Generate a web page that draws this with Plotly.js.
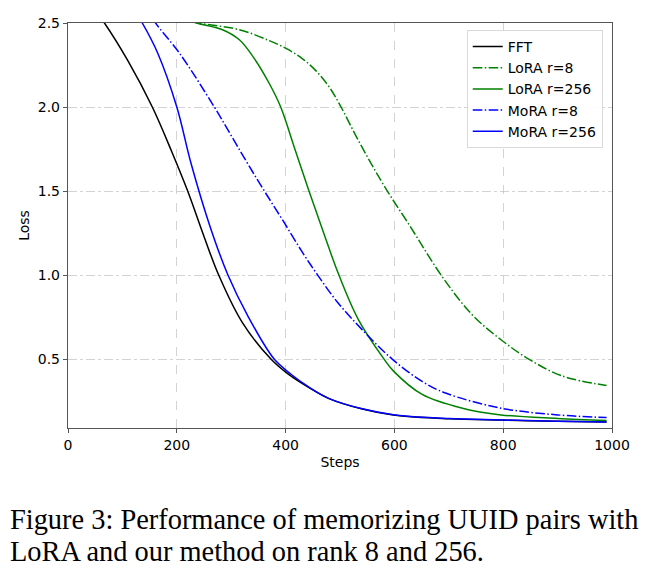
<!DOCTYPE html>
<html>
<head>
<meta charset="utf-8">
<script src="https://cdn.plot.ly/plotly-3.0.1.min.js"></script>
<style>html,body{margin:0;padding:0;background:#fff;}#chart{width:652px;height:575px;}</style>
</head>
<body>
<div id="chart"></div>
<script>
// Series data (steps, loss)
const fftSteps = [30, 67, 110, 155, 190, 220, 250, 277, 320, 373, 405, 443, 480, 541, 598, 700, 796, 900, 990];
const fftLoss  = [2.66, 2.5, 2.276, 2.0, 1.74, 1.5, 1.23, 1.0, 0.72, 0.5, 0.41, 0.33, 0.265, 0.203, 0.168, 0.145, 0.137, 0.130, 0.125];

const lora8Steps = [200, 240, 315, 370, 400, 430, 456, 480, 502, 529, 557, 587, 627, 688, 743, 796, 847, 908, 990];
const lora8Loss  = [2.53, 2.5, 2.46, 2.395, 2.35, 2.29, 2.215, 2.12, 2.0, 1.83, 1.665, 1.50, 1.30, 0.99, 0.764, 0.615, 0.50, 0.40, 0.343];

const lora256Steps = [200, 236, 284, 315, 340, 370, 391, 417, 443, 470, 498, 534, 581, 598, 651, 725, 796, 900, 990];
const lora256Loss  = [2.54, 2.5, 2.46, 2.40, 2.30, 2.14, 2.0, 1.75, 1.5, 1.25, 1.0, 0.734, 0.5, 0.43, 0.29, 0.208, 0.168, 0.147, 0.135];

const mora8Steps = [125, 161, 205, 269, 300, 330, 361, 395, 431, 459, 495, 541, 596, 651, 694, 796, 900, 990];
const mora8Loss  = [2.68, 2.5, 2.32, 2.0, 1.83, 1.665, 1.5, 1.325, 1.135, 1.0, 0.84, 0.674, 0.5, 0.367, 0.298, 0.208, 0.168, 0.152];

const mora256Steps = [105, 136.5, 165, 200, 226, 260, 294, 330, 379, 410, 443, 480, 541, 598, 700, 796, 900, 990];
const mora256Loss  = [2.66, 2.5, 2.32, 2.0, 1.667, 1.3, 1.0, 0.76, 0.5, 0.41, 0.333, 0.265, 0.204, 0.169, 0.146, 0.138, 0.130, 0.126];

const xTicks = [0, 200, 400, 600, 800, 1000];
const yTicks = [0.5, 1.0, 1.5, 2.0, 2.5];

const dashDot = "9.6px,2.4px,1.5px,2.4px";
const font = "DejaVu Sans, sans-serif";
const serif = "Liberation Serif, Times New Roman, serif";

function tr(x, y, name, color, dash) {
  const line = {color: color, width: 1.5, shape: "spline", smoothing: 1};
  if (dash) line.dash = dash;
  return {type: "scatter", mode: "lines", x: x, y: y, name: name, line: line};
}

const traces = [
  tr(fftSteps, fftLoss, "FFT", "#000000"),
  tr(lora8Steps, lora8Loss, "LoRA r=8", "#008000", dashDot),
  tr(lora256Steps, lora256Loss, "LoRA r=256", "#008000"),
  tr(mora8Steps, mora8Loss, "MoRA r=8", "#0000ff", dashDot),
  tr(mora256Steps, mora256Loss, "MoRA r=256", "#0000ff")
];

const layout = {
  width: 652, height: 575,
  margin: {l: 68, r: 40, t: 23, b: 147},
  paper_bgcolor: "#ffffff", plot_bgcolor: "#ffffff",
  font: {family: font, size: 14, color: "#000"},
  showlegend: true,
  legend: {
    x: 0.983, y: 0.983, xanchor: "right", yanchor: "top",
    bgcolor: "rgba(255,255,255,0.9)", bordercolor: "#d9d9d9", borderwidth: 1,
    font: {family: font, size: 14, color: "#000"},
    itemwidth: 30, tracegroupgap: 0
  },
  xaxis: {
    range: [0, 1000], tickvals: xTicks, ticktext: xTicks.map(String),
    showline: true, linecolor: "#555", linewidth: 1.2, mirror: true,
    ticks: "outside", ticklen: 4, tickcolor: "#555",
    showgrid: true, gridcolor: "#c8c8c8", gridwidth: 0.8, griddash: "dash",
    zeroline: false,
    tickfont: {family: font, size: 14},
    title: {text: "Steps", font: {family: font, size: 14}, standoff: 5}
  },
  yaxis: {
    range: [0.09, 2.5], tickvals: yTicks, ticktext: yTicks.map(v => v.toFixed(1)),
    showline: true, linecolor: "#555", linewidth: 1.2, mirror: true,
    ticks: "outside", ticklen: 4, tickcolor: "#555",
    showgrid: true, gridcolor: "#c8c8c8", gridwidth: 0.8, griddash: "dashdot",
    zeroline: false,
    tickfont: {family: font, size: 14},
    title: {text: "Loss", font: {family: font, size: 14}, standoff: 4}
  },
  annotations: [
    {text: "Figure 3: Performance of memorizing UUID pairs with", xref: "paper", yref: "paper",
     x: -0.11, y: -0.2247, xanchor: "left", yanchor: "middle", showarrow: false,
     font: {family: serif, size: 28.4, color: "#000"}},
    {text: "LoRA and our method on rank 8 and 256.", xref: "paper", yref: "paper",
     x: -0.11, y: -0.306, xanchor: "left", yanchor: "middle", showarrow: false,
     font: {family: serif, size: 28.4, color: "#000"}}
  ]
};

Plotly.newPlot("chart", traces, layout, {displayModeBar: false, staticPlot: true});
</script>
</body>
</html>
